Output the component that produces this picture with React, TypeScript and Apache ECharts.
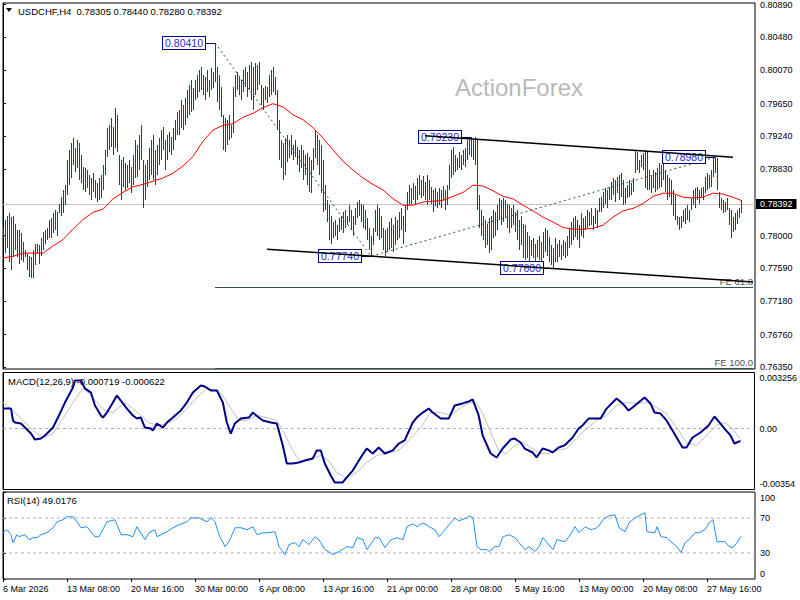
import React, { useEffect, useRef } from "react";
import * as echarts from "echarts";

// ---------- header / titles ----------
const SYMBOL_TITLE = "USDCHF,H4";
const LAST_OHLC = [0.78305, 0.7844, 0.7828, 0.78392];
const MACD_TITLE = "MACD(12,26,9)";
const MACD_LAST = [-0.000719, -0.000622];
const RSI_TITLE = "RSI(14)";
const RSI_LAST = 49.0176;
const WATERMARK = "ActionForex";

// ---------- axes ----------
const TIME_LABELS = [
  "6 Mar 2026", "13 Mar 08:00", "20 Mar 16:00", "30 Mar 00:00", "6 Apr 08:00", "13 Apr 16:00",
  "21 Apr 00:00", "28 Apr 08:00", "5 May 16:00", "13 May 00:00", "20 May 08:00", "27 May 16:00",
];
const TIME_LABEL_STEP = 32; // bars between time labels
const PRICE_TICKS = [0.7635, 0.7676, 0.7718, 0.7759, 0.78, 0.7883, 0.7924, 0.7965, 0.8007, 0.8048, 0.8089];
const PRICE_MIN = 0.7633;
const PRICE_MAX = 0.8091;
const MACD_TICKS = [-0.00354, 0, 0.003256];
const MACD_TICK_LABELS = ["-0.00354", "0.00", "0.003256"];
const RSI_TICKS = [0, 30, 70, 100];
const RSI_LEVELS = [30, 70];

// ---------- price bars (H4 high / low) ----------
const HIGHS = [
  0.7810, 0.7819, 0.7825, 0.7828, 0.7823, 0.7825, 0.7815, 0.7807, 0.7807, 0.7803,
  0.7792, 0.7782, 0.7778, 0.7775, 0.7773, 0.7782, 0.7790, 0.7790, 0.7788, 0.7797,
  0.7804, 0.7807, 0.7809, 0.7819, 0.7822, 0.7828, 0.7832, 0.7829, 0.7840,
  0.7848, 0.7857, 0.7863, 0.7894, 0.7907, 0.7916, 0.7922, 0.7910, 0.7920, 0.7916, 0.7901, 0.7886, 0.7884, 0.7882, 0.7876, 0.7872, 0.7878,
  0.7869, 0.7866, 0.7872, 0.7876, 0.7888, 0.7907, 0.7935, 0.7938, 0.7947, 0.7936, 0.7960, 0.7951, 0.7901, 0.7894, 0.7898,
  0.7891, 0.7888, 0.7894, 0.7886, 0.7901, 0.7920, 0.7913, 0.7926, 0.7938, 0.7894, 0.7888, 0.7894, 0.7910, 0.7920, 0.7926, 0.7907, 0.7913,
  0.7922, 0.7932, 0.7936, 0.7920, 0.7926, 0.7930, 0.7923, 0.7935, 0.7945, 0.7955,
  0.7957, 0.7970, 0.7963, 0.7972, 0.7982, 0.7988, 0.7995, 0.7985, 0.7995, 0.8001,
  0.8007, 0.8011, 0.8001, 0.7998, 0.8007, 0.7995, 0.8010, 0.8005, 0.8041,
  0.8011, 0.8001, 0.7986, 0.7951, 0.7947, 0.7945, 0.7951, 0.7938, 0.7986, 0.8001, 0.8005, 0.7998, 0.7995, 0.8007, 0.8011, 0.8005, 0.8014, 0.8017, 0.8011, 0.8016, 0.8014, 0.8017,
  0.7988, 0.7985, 0.7987, 0.7986, 0.8001, 0.8007, 0.8011, 0.7998, 0.7982, 0.7945,
  0.7920, 0.7916, 0.7922, 0.7926, 0.7920, 0.7926, 0.7913, 0.7920, 0.7911, 0.7907,
  0.7913, 0.7907, 0.7901, 0.7903, 0.7898, 0.7894, 0.7910, 0.7932, 0.7926, 0.7920,
  0.7913, 0.7894,
  0.7863, 0.7844, 0.7838, 0.7825, 0.7817, 0.7819, 0.7813, 0.7822, 0.7825, 0.7829,
  0.7832, 0.7825, 0.7838, 0.7832, 0.7825, 0.7834, 0.7842, 0.7844, 0.7840, 0.7838,
  0.7832, 0.7822, 0.7809, 0.7800, 0.7809, 0.7832, 0.7838, 0.7834, 0.7825, 0.7810,
  0.7807, 0.7809,
  0.7817, 0.7822, 0.7813, 0.7823, 0.7819, 0.7829, 0.7835, 0.7825, 0.7838, 0.7854,
  0.7863, 0.7859, 0.7866, 0.7862, 0.7872, 0.7876, 0.7869, 0.7874, 0.7867, 0.7876,
  0.7869, 0.7861, 0.7857, 0.7859, 0.7854, 0.7859, 0.7857, 0.7862, 0.7857, 0.7863,
  0.7888, 0.7907, 0.7911, 0.7901, 0.7897, 0.7904, 0.7901, 0.7907, 0.7910, 0.7920,
  0.7922, 0.7923, 0.7920, 0.7923,
  0.7920, 0.7851, 0.7832, 0.7825, 0.7819, 0.7815, 0.7822, 0.7825, 0.7832, 0.7829,
  0.7838, 0.7847, 0.7844, 0.7847, 0.7844, 0.7840, 0.7838, 0.7834, 0.7838, 0.7829,
  0.7832, 0.7819, 0.7825, 0.7815,
  0.7813, 0.7804, 0.7800, 0.7794, 0.7797, 0.7790, 0.7794, 0.7799, 0.7792, 0.7804,
  0.7809, 0.7807, 0.7798, 0.7788, 0.7785, 0.7797, 0.7790, 0.7794, 0.7788, 0.7794,
  0.7792, 0.7800, 0.7809, 0.7817, 0.7822,
  0.7825, 0.7819, 0.7813, 0.7828, 0.7822, 0.7825, 0.7832, 0.7829, 0.7834, 0.7825, 0.7835, 0.7832,
  0.7847, 0.7848, 0.7854, 0.7859, 0.7857, 0.7861, 0.7867, 0.7872, 0.7869, 0.7873,
  0.7876, 0.7878, 0.7869, 0.7859, 0.7863, 0.7869, 0.7866, 0.7872, 0.7907, 0.7904,
  0.7894, 0.7901, 0.7903, 0.7907, 0.7904, 0.7882, 0.7876, 0.7882, 0.7879, 0.7884,
  0.7891, 0.7888, 0.7904, 0.7882, 0.7876, 0.7872, 0.7869, 0.7857, 0.7851, 0.7825,
  0.7823, 0.7825, 0.7832, 0.7835, 0.7838, 0.7832, 0.7847, 0.7857, 0.7859, 0.7861,
  0.7857, 0.7859, 0.7861, 0.7873, 0.7878, 0.7876, 0.7882, 0.7898, 0.7898, 0.7897,
  0.7854, 0.7847, 0.7844, 0.7842, 0.7847, 0.7835, 0.7832, 0.7823, 0.7828, 0.7832,
  0.7835, 0.7844,
];
const LOWS = [
  0.7800, 0.7778, 0.7785, 0.7767, 0.7757, 0.7773, 0.7782, 0.7773, 0.7765, 0.7769,
  0.7767, 0.7773, 0.7757, 0.7748, 0.7747, 0.7747, 0.7763, 0.7778, 0.7765, 0.7775,
  0.7782, 0.7790, 0.7794, 0.7797, 0.7797, 0.7803, 0.7807, 0.7800, 0.7828,
  0.7825, 0.7828, 0.7838, 0.7851, 0.7863, 0.7872, 0.7888, 0.7879, 0.7884, 0.7869, 0.7866, 0.7857, 0.7854, 0.7859, 0.7851, 0.7844, 0.7854,
  0.7847, 0.7842, 0.7844, 0.7847, 0.7857, 0.7876, 0.7898, 0.7907, 0.7911, 0.7901, 0.7910, 0.7904, 0.7863, 0.7844, 0.7861,
  0.7857, 0.7859, 0.7866, 0.7853, 0.7863, 0.7872, 0.7873, 0.7882, 0.7894, 0.7835, 0.7844, 0.7861, 0.7869, 0.7876, 0.7869, 0.7863, 0.7876,
  0.7888, 0.7894, 0.7907, 0.7882, 0.7894, 0.7904, 0.7901, 0.7907, 0.7920, 0.7926,
  0.7926, 0.7935, 0.7932, 0.7938, 0.7947, 0.7951, 0.7955, 0.7957, 0.7970, 0.7972,
  0.7980, 0.7982, 0.7976, 0.7970, 0.7980, 0.7973, 0.7982, 0.7985, 0.7992,
  0.7967, 0.7957, 0.7948, 0.7907, 0.7904, 0.7913, 0.7920, 0.7922, 0.7928, 0.7973, 0.7982, 0.7976, 0.7970, 0.7980, 0.7986, 0.7973, 0.7982, 0.7970, 0.7957, 0.7976, 0.7982, 0.7988,
  0.7963, 0.7957, 0.7970, 0.7966, 0.7973, 0.7976, 0.7980, 0.7976, 0.7932, 0.7894,
  0.7884, 0.7869, 0.7876, 0.7892, 0.7897, 0.7901, 0.7894, 0.7898, 0.7888, 0.7879,
  0.7884, 0.7869, 0.7876, 0.7863, 0.7854, 0.7853, 0.7882, 0.7897, 0.7888, 0.7876,
  0.7853, 0.7829,
  0.7832, 0.7817, 0.7794, 0.7790, 0.7797, 0.7800, 0.7794, 0.7804, 0.7807, 0.7803,
  0.7809, 0.7813, 0.7817, 0.7807, 0.7800, 0.7813, 0.7822, 0.7825, 0.7817, 0.7810,
  0.7807, 0.7794, 0.7782, 0.7774, 0.7788, 0.7804, 0.7800, 0.7794, 0.7797, 0.7782,
  0.7775, 0.7779,
  0.7782, 0.7784, 0.7779, 0.7788, 0.7794, 0.7797, 0.7807, 0.7790, 0.7804, 0.7832,
  0.7838, 0.7840, 0.7844, 0.7838, 0.7844, 0.7851, 0.7847, 0.7849, 0.7844, 0.7838,
  0.7844, 0.7840, 0.7829, 0.7837, 0.7834, 0.7838, 0.7835, 0.7844, 0.7832, 0.7838,
  0.7857, 0.7872, 0.7876, 0.7879, 0.7882, 0.7884, 0.7882, 0.7888, 0.7886, 0.7894,
  0.7901, 0.7898, 0.7894, 0.7888,
  0.7832, 0.7809, 0.7800, 0.7794, 0.7784, 0.7788, 0.7778, 0.7782, 0.7797, 0.7800,
  0.7807, 0.7819, 0.7813, 0.7817, 0.7822, 0.7809, 0.7803, 0.7809, 0.7813, 0.7804,
  0.7794, 0.7782, 0.7788, 0.7772,
  0.7769, 0.7772, 0.7767, 0.7775, 0.7772, 0.7767, 0.7773, 0.7769, 0.7763, 0.7772,
  0.7779, 0.7775, 0.7767, 0.7763, 0.7760, 0.7767, 0.7767, 0.7773, 0.7769, 0.7775,
  0.7772, 0.7775, 0.7784, 0.7788, 0.7794,
  0.7798, 0.7794, 0.7785, 0.7800, 0.7797, 0.7807, 0.7809, 0.7812, 0.7813, 0.7807, 0.7815, 0.7809,
  0.7829, 0.7829, 0.7835, 0.7840, 0.7835, 0.7844, 0.7844, 0.7851, 0.7842, 0.7853,
  0.7844, 0.7848, 0.7838, 0.7840, 0.7847, 0.7848, 0.7851, 0.7854, 0.7878, 0.7882,
  0.7878, 0.7886, 0.7882, 0.7859, 0.7857, 0.7857, 0.7853, 0.7859, 0.7854, 0.7857,
  0.7859, 0.7861, 0.7869, 0.7854, 0.7844, 0.7848, 0.7838, 0.7825, 0.7819, 0.7813,
  0.7807, 0.7809, 0.7817, 0.7815, 0.7819, 0.7817, 0.7832, 0.7838, 0.7835, 0.7844,
  0.7840, 0.7847, 0.7844, 0.7853, 0.7857, 0.7859, 0.7861, 0.7873, 0.7878, 0.7857,
  0.7834, 0.7832, 0.7828, 0.7829, 0.7832, 0.7813, 0.7797, 0.7804, 0.7807, 0.7815,
  0.7822, 0.7828,
];

// ---------- moving average (red), read every 5 bars ----------
const MA_STEP = 5;
const MA_VALUES = [
  0.7772, 0.7774, 0.7778, 0.7778, 0.7778, 0.7787, 0.7795, 0.7808, 0.7820, 0.7829,
  0.7833, 0.7846, 0.7854, 0.7861, 0.7864, 0.7868, 0.7872, 0.7878, 0.7887, 0.7899,
  0.7918, 0.7932, 0.7938, 0.7940, 0.7948, 0.7953, 0.7960, 0.7965, 0.7961, 0.7951,
  0.7945, 0.7935, 0.7922, 0.7907, 0.7893, 0.7882, 0.7872, 0.7864, 0.7857, 0.7846,
  0.7838, 0.7838, 0.7842, 0.7843, 0.7844, 0.7849, 0.7854, 0.7863, 0.7862, 0.7856,
  0.7849, 0.7846, 0.7838, 0.7831, 0.7823, 0.7817, 0.7810, 0.7808, 0.7808, 0.7809,
  0.7813, 0.7823, 0.7831, 0.7834, 0.7840, 0.7849, 0.7853, 0.7853, 0.7848, 0.7847,
  0.7848, 0.7853, 0.7852, 0.7848,
];
const MA_LAST = [369, 0.7844];

// ---------- MACD (bar index, value) ----------
const MACD_MAIN = [
  [0, 0.00116], [4, 0.00116], [5, 0.00047], [6, 0.00035], [9, 0.00029], [11, 0.00006], [14, -0.00029], [16, -0.00064],
  [19, -0.00058], [21, -0.0004], [25, 0.00006], [28, 0.00076], [31, 0.00151], [35, 0.00238], [36, 0.00279], [39, 0.00279],
  [41, 0.00233], [44, 0.00209], [46, 0.00134], [49, 0.00076], [50, 0.00064], [52, 0.00093], [55, 0.00151], [57, 0.00192],
  [60, 0.00146], [62, 0.00116], [65, 0.00076], [67, 0.00058], [69, 0.00064], [71, 0.00006], [74, 0], [75, -0.00011],
  [77, 0.00029], [80, 0.00006], [82, 0.00035], [85, 0.00064], [89, 0.00105], [92, 0.00151], [95, 0.00209], [99, 0.0025],
  [101, 0.00244], [104, 0.00221], [107, 0.00221], [110, 0.00151], [112, 0.00035], [114, -0.00029], [116, 0.00029], [119, 0.00058],
  [123, 0.00064], [125, 0.00093], [128, 0.00064], [130, 0.00047], [134, 0.00035], [137, 0.00029], [140, -0.00098], [142, -0.00203],
  [145, -0.00203], [148, -0.00197], [151, -0.00186], [155, -0.00174], [157, -0.00127], [159, -0.00127], [161, -0.00203], [164, -0.00273],
  [166, -0.00313], [170, -0.00313], [172, -0.00284], [175, -0.00244], [179, -0.00168], [182, -0.00116], [185, -0.00145], [188, -0.0011],
  [191, -0.00145], [195, -0.00127], [198, -0.00087], [201, -0.00069], [205, 0.00035], [207, 0.00064], [210, 0.00093], [213, 0.00116],
  [215, 0.00093], [219, 0.00058], [223, 0.00058], [226, 0.00134], [230, 0.00146], [233, 0.00157], [235, 0.00169], [238, 0.00076],
  [240, -0.0004], [244, -0.00145], [247, -0.00168], [250, -0.00116], [254, -0.00064], [256, -0.00058], [259, -0.00081], [261, -0.00116],
  [265, -0.00139], [267, -0.00168], [270, -0.00116], [273, -0.00127], [275, -0.00139], [278, -0.0011], [281, -0.00098], [285, -0.00052],
  [288, 0], [290, 0.00018], [293, 0.00058], [299, 0.00058], [302, 0.00116], [307, 0.00175], [310, 0.00146], [313, 0.00105],
  [315, 0.00122], [321, 0.0018], [324, 0.00146], [326, 0.00093], [329, 0.00087], [332, 0.00047], [335, -0.00011], [340, -0.0011],
  [342, -0.0011], [345, -0.00052], [349, -0.00023], [353, 0.00018], [356, 0.0007], [359, 0.00029], [361, 0], [364, -0.0004],
  [366, -0.00087], [369, -0.000719],
];
const MACD_SIGNAL = [
  [0, 0.00151], [5, 0.00105], [10, 0.00047], [15, -0.00011], [20, -0.00052], [25, -0.00029], [30, 0.00058], [35, 0.00151],
  [40, 0.00233], [43, 0.00204], [47, 0.00151], [51, 0.00105], [55, 0.00093], [58, 0.00122], [61, 0.00151], [65, 0.00116],
  [69, 0.00076], [73, 0.00035], [77, 0.00018], [82, 0.00029], [87, 0.00058], [92, 0.00116], [97, 0.0018], [102, 0.00233],
  [107, 0.00221], [110, 0.00192], [114, 0.00116], [118, 0.00047], [122, 0.00047], [127, 0.00076], [132, 0.00064], [137, 0.00047],
  [140, -0.00011], [145, -0.00127], [149, -0.00197], [154, -0.00174], [159, -0.00157], [163, -0.00186], [167, -0.00255], [172, -0.0029],
  [177, -0.00255], [182, -0.00197], [187, -0.00157], [192, -0.00145], [198, -0.00127], [204, -0.00058], [209, 0.00006], [214, 0.00093],
  [219, 0.00093], [224, 0.00076], [229, 0.00122], [234, 0.00151], [237, 0.00146], [240, 0.00087], [244, -0.00023], [248, -0.00127],
  [252, -0.00145], [256, -0.00098], [260, -0.00081], [265, -0.00116], [269, -0.00145], [273, -0.00145], [277, -0.00127], [282, -0.00116],
  [287, -0.00058], [292, 0], [297, 0.00047], [302, 0.00076], [307, 0.00134], [312, 0.00151], [317, 0.00146], [322, 0.00151],
  [327, 0.00122], [332, 0.00087], [337, 0.00006], [342, -0.00081], [347, -0.00098], [352, -0.0004], [357, 0.00018], [361, 0.00035],
  [365, 0], [369, -0.000622],
];

// ---------- RSI (bar index, value) ----------
const RSI_LINE = [
  [0, 53.2], [2, 56.6], [4, 50.9], [5, 41.8], [7, 50.9], [8, 48.6], [11, 50.9], [13, 45.2], [15, 47.5], [17, 47.5],
  [19, 50.9], [22, 53.2], [25, 58.9], [27, 65.8], [30, 68.1], [32, 71.5], [35, 71.5], [37, 65.8], [39, 58.9], [42, 60.1],
  [46, 48.6], [48, 48.6], [52, 65.8], [56, 68.1], [59, 50.9], [62, 50.9], [65, 48.6], [67, 60.1], [71, 45.2], [73, 53.2],
  [76, 56.6], [77, 48.6], [82, 54.3], [85, 58.9], [88, 62.3], [92, 65.8], [94, 70.3], [98, 70.3], [102, 65.8], [104, 70.3],
  [106, 65.8], [108, 50.9], [111, 37.2], [113, 42.9], [116, 58.9], [119, 58.9], [122, 56.6], [125, 60.1], [127, 50.9], [130, 53.2],
  [133, 53.2], [136, 54.3], [138, 37.2], [141, 28.1], [143, 39.5], [146, 41.8], [148, 37.2], [150, 45.2], [153, 39.5], [156, 48.6],
  [158, 45.2], [161, 33.8], [165, 28.1], [168, 31.5], [172, 37.2], [175, 36.1], [177, 47.5], [180, 45.2], [182, 33.8], [186, 47.5],
  [188, 47.5], [191, 36.1], [194, 45.2], [197, 47.5], [200, 45.2], [202, 60.1], [205, 63.5], [207, 60.1], [210, 64.6], [213, 60.1],
  [216, 56.6], [218, 48.6], [221, 56.6], [223, 62.3], [226, 70.3], [228, 66.9], [232, 70.3], [233, 72.6], [235, 70.3], [237, 37.2],
  [239, 33.8], [242, 33.8], [243, 31.5], [246, 37.2], [248, 37.2], [250, 48.6], [253, 50.9], [256, 47.5], [258, 41.8], [261, 33.8],
  [263, 37.2], [266, 31.5], [268, 37.2], [270, 47.5], [272, 41.8], [275, 33.8], [277, 45.2], [281, 42.9], [283, 48.6], [286, 60.1],
  [288, 53.2], [291, 60.1], [294, 56.6], [297, 58.9], [301, 70.3], [303, 72.6], [306, 73.8], [308, 58.9], [311, 54.3], [313, 64.6],
  [316, 70.3], [318, 72.6], [321, 76.1], [322, 54.3], [326, 53.2], [327, 60.1], [329, 48.6], [332, 47.5], [334, 42.9], [337, 37.2],
  [339, 30.3], [341, 41.8], [343, 45.2], [346, 53.2], [348, 53.2], [351, 56.6], [353, 64.6], [355, 68.1], [357, 42.9], [361, 42.9],
  [363, 37.2], [365, 36.1], [367, 41.8], [369, 49.0176],
];

// ---------- annotations ----------
const PIVOT_IDX = [106, 234, 184, 275, 356];
const PIVOT_VAL = [0.8041, 0.7923, 0.7774, 0.776, 0.7898];
const UPPER_TREND = [[211, 0.7925], [365, 0.7898]];
const LOWER_TREND = [[132, 0.7783], [375, 0.7742]];
const FE_PATH = [[106, 0.8041], [184, 0.7774], [356, 0.7898]];
const FE_START = 106;
const FE_END = 375;
const FE_LEVELS = [0.7735, 0.7634];
const FE_NAMES = ["FE 61.8", "FE 100.0"];

const XMAX = 376;
const FONT = '"Liberation Sans", Arial, sans-serif';
const BAR_COLOR = "#1c4466";

function buildOption() {
  const gridL = 3;
  const gridR = 45;
  const barData = HIGHS.map((h, i) => [i, h, LOWS[i]]);
  const maData = MA_VALUES.map((v, k) => [k * MA_STEP, v]).concat([MA_LAST]);
  const timeTicks = TIME_LABELS.map((_, k) => k * TIME_LABEL_STEP);

  const near = (a: number, b: number) => Math.abs(a - b) < 1e-9;

  const hideX = (gi: number) => ({
    type: "value", gridIndex: gi, min: 0, max: XMAX, show: false, splitLine: { show: false },
  });

  const edgeRich = {
    t: { padding: [11, 0, 0, 0], fontSize: 9, color: "#000", fontFamily: FONT },
    b: { padding: [0, 0, 11, 0], fontSize: 9, color: "#000", fontFamily: FONT },
  };

  return {
    animation: false,
    backgroundColor: "#fff",
    grid: [
      { left: gridL, right: gridR, top: 3, height: 366, show: true, borderColor: "#000", borderWidth: 1, backgroundColor: "transparent" },
      { left: gridL, right: gridR, top: 372.5, height: 117, show: true, borderColor: "#000", borderWidth: 1, backgroundColor: "transparent" },
      { left: gridL, right: gridR, top: 492, height: 87, show: true, borderColor: "#000", borderWidth: 1, backgroundColor: "transparent" },
    ],
    xAxis: [
      hideX(0),
      hideX(1),
      {
        type: "value", gridIndex: 2, min: 0, max: XMAX,
        splitLine: { show: false },
        axisLine: { show: false },
        axisTick: { show: true, length: 3, customValues: timeTicks, lineStyle: { color: "#000" } },
        axisLabel: {
          customValues: timeTicks,
          formatter: (v: number) => TIME_LABELS[Math.round(v / TIME_LABEL_STEP)] || "",
          align: "left", margin: 5, fontSize: 9, color: "#000", fontFamily: FONT,
          showMinLabel: true, showMaxLabel: true,
        },
      },
    ],
    yAxis: [
      {
        type: "value", gridIndex: 0, position: "right", min: PRICE_MIN, max: PRICE_MAX, scale: true,
        splitLine: { show: false },
        axisLine: { show: true, lineStyle: { color: "#000" } },
        axisTick: { show: true, length: 3, customValues: PRICE_TICKS, lineStyle: { color: "#000" } },
        axisLabel: {
          customValues: PRICE_TICKS, formatter: (v: number) => v.toFixed(5),
          margin: 5, fontSize: 9, color: "#000", fontFamily: FONT,
        },
      },
      {
        type: "value", gridIndex: 1, position: "right", min: MACD_TICKS[0], max: MACD_TICKS[2],
        splitLine: { show: false },
        axisLine: { show: true, lineStyle: { color: "#000" } },
        axisTick: { show: true, length: 3, customValues: MACD_TICKS, lineStyle: { color: "#000" } },
        axisLabel: {
          customValues: MACD_TICKS,
          formatter: (v: number) => {
            const k = MACD_TICKS.findIndex((t) => near(t, v));
            const txt = k >= 0 ? MACD_TICK_LABELS[k] : "";
            if (k === MACD_TICKS.length - 1) return "{t|" + txt + "}";
            if (k === 0) return "{b|" + txt + "}";
            return txt;
          },
          rich: edgeRich, margin: 5, fontSize: 9, color: "#000", fontFamily: FONT,
        },
      },
      {
        type: "value", gridIndex: 2, position: "right", min: 0, max: 100,
        splitLine: { show: false },
        axisLine: { show: true, lineStyle: { color: "#000" } },
        axisTick: { show: true, length: 3, customValues: RSI_TICKS, lineStyle: { color: "#000" } },
        axisLabel: {
          customValues: RSI_TICKS,
          formatter: (v: number) => {
            if (near(v, 100)) return "{t|100}";
            if (near(v, 0)) return "{b|0}";
            return String(Math.round(v));
          },
          rich: edgeRich, margin: 5, fontSize: 9, color: "#000", fontFamily: FONT,
        },
      },
    ],
    graphic: [
      { type: "polygon", shape: { points: [[6, 8], [12, 8], [9, 12]] }, style: { fill: "#000" }, z: 50 },
      {
        type: "text", x: 18, y: 11, z: 50,
        style: {
          text: SYMBOL_TITLE + "\u00a0\u00a0" + LAST_OHLC.map((v) => v.toFixed(5)).join(" "),
          fontSize: 9.5, fontFamily: FONT, fill: "#000", verticalAlign: "middle",
        },
      },
      {
        type: "text", x: 455, y: 87, z: 1,
        style: { text: WATERMARK, fontSize: 24, fontFamily: FONT, fill: "#b9b9b9", verticalAlign: "middle" },
      },
      {
        type: "text", x: 8, y: 381, z: 50,
        style: {
          text: MACD_TITLE + " " + MACD_LAST.map((v) => v.toFixed(6)).join(" "),
          fontSize: 9.5, fontFamily: FONT, fill: "#000", verticalAlign: "middle",
        },
      },
      {
        type: "text", x: 7, y: 500, z: 50,
        style: {
          text: RSI_TITLE + " " + RSI_LAST.toFixed(4),
          fontSize: 9.5, fontFamily: FONT, fill: "#000", verticalAlign: "middle",
        },
      },
    ],
    series: [
      // current price line + black tag
      {
        type: "custom", xAxisIndex: 0, yAxisIndex: 0, silent: true, z: 1,
        data: [[LAST_OHLC[3]]],
        encode: { y: 0 },
        renderItem: (params: any, api: any) => {
          const v = api.value(0);
          const a = api.coord([0, v]);
          const b = api.coord([XMAX, v]);
          const y = Math.round(a[1]) + 0.5;
          return {
            type: "group",
            children: [
              { type: "line", shape: { x1: a[0], y1: y, x2: b[0], y2: y }, style: { stroke: "#c0c0c0", lineWidth: 1 } },
              {
                type: "text", x: b[0] + 1, y: Math.round(a[1]),
                style: {
                  text: v.toFixed(5), fill: "#fff", fontSize: 9, fontFamily: FONT, verticalAlign: "middle",
                  backgroundColor: "#000", padding: [1, 4, 0, 4],
                },
              },
            ],
          };
        },
      },
      // OHLC bars drawn as high-low strokes
      {
        type: "custom", xAxisIndex: 0, yAxisIndex: 0, silent: true, clip: true, z: 2,
        data: barData,
        encode: { x: 0, y: [1, 2] },
        renderItem: (params: any, api: any) => {
          const top = api.coord([api.value(0), api.value(1)]);
          const bot = api.coord([api.value(0), api.value(2)]);
          const x = Math.round(top[0]) + 0.5;
          const y1 = Math.round(top[1]);
          const y2 = Math.max(Math.round(bot[1]), y1 + 1);
          return { type: "line", shape: { x1: x, y1, x2: x, y2 }, style: { stroke: BAR_COLOR, lineWidth: 1 } };
        },
      },
      // moving average
      {
        type: "line", xAxisIndex: 0, yAxisIndex: 0, data: maData, symbol: "none", silent: true, z: 3,
        lineStyle: { color: "#ff0000", width: 1 },
      },
      // Fibonacci expansion path
      {
        type: "line", xAxisIndex: 0, yAxisIndex: 0, data: FE_PATH, symbol: "none", silent: true, z: 4,
        lineStyle: { color: "#2f4f4f", width: 1, type: [2, 3] },
      },
      // FE levels
      {
        type: "custom", xAxisIndex: 0, yAxisIndex: 0, silent: true, z: 4,
        data: FE_LEVELS.map((lv, k) => [FE_START, FE_END, lv, k]),
        encode: { x: [0, 1], y: 2 },
        renderItem: (params: any, api: any) => {
          const a = api.coord([api.value(0), api.value(2)]);
          const b = api.coord([api.value(1), api.value(2)]);
          const y = Math.round(a[1]) + 0.5;
          return {
            type: "group",
            children: [
              { type: "line", shape: { x1: a[0], y1: y, x2: b[0], y2: y }, style: { stroke: "#2f4f4f", lineWidth: 1 } },
              {
                type: "text", x: b[0], y: y - 1,
                style: {
                  text: FE_NAMES[api.value(3)], fill: "#505050", fontSize: 9.5, fontFamily: FONT,
                  align: "right", verticalAlign: "bottom",
                },
              },
            ],
          };
        },
      },
      // pivot labels
      {
        type: "custom", xAxisIndex: 0, yAxisIndex: 0, silent: true, z: 6,
        data: PIVOT_IDX.map((ix, k) => [ix, PIVOT_VAL[k]]),
        encode: { x: 0, y: 1 },
        renderItem: (params: any, api: any) => {
          const p = api.coord([api.value(0), api.value(1)]);
          const y = Math.round(p[1]);
          const xr = Math.round(p[0]) - 10;
          return {
            type: "group",
            children: [
              { type: "line", shape: { x1: xr, y1: y + 0.5, x2: p[0], y2: y + 0.5 }, style: { stroke: "#000080", lineWidth: 1 } },
              {
                type: "text", x: xr, y,
                style: {
                  text: api.value(1).toFixed(5), fill: "#2a2ad0", fontSize: 10.5, fontFamily: FONT,
                  align: "right", verticalAlign: "middle",
                  backgroundColor: "#fff", borderColor: "#000080", borderWidth: 1, padding: [1, 2, 0, 2],
                },
              },
            ],
          };
        },
      },
      // trend lines
      {
        type: "line", xAxisIndex: 0, yAxisIndex: 0, data: UPPER_TREND, symbol: "none", silent: true, z: 8,
        lineStyle: { color: "#000", width: 1.5 },
      },
      {
        type: "line", xAxisIndex: 0, yAxisIndex: 0, data: LOWER_TREND, symbol: "none", silent: true, z: 8,
        lineStyle: { color: "#000", width: 1.5 },
      },
      // MACD zero line
      {
        type: "line", xAxisIndex: 1, yAxisIndex: 1, data: [[0, 0], [XMAX, 0]], symbol: "none", silent: true, z: 1,
        lineStyle: { color: "#b0b0b0", width: 1, type: [3, 3] },
      },
      {
        type: "line", xAxisIndex: 1, yAxisIndex: 1, data: MACD_SIGNAL, symbol: "none", silent: true, z: 2,
        lineStyle: { color: "#c0c0c0", width: 1 },
      },
      {
        type: "line", xAxisIndex: 1, yAxisIndex: 1, data: MACD_MAIN, symbol: "none", silent: true, z: 3,
        lineStyle: { color: "#00008b", width: 2 },
      },
      // RSI levels and line
      ...RSI_LEVELS.map((lv) => ({
        type: "line", xAxisIndex: 2, yAxisIndex: 2, data: [[0, lv], [XMAX, lv]], symbol: "none", silent: true, z: 1,
        lineStyle: { color: "#b0b0b0", width: 1, type: [3, 3] },
      })),
      {
        type: "line", xAxisIndex: 2, yAxisIndex: 2, data: RSI_LINE, symbol: "none", silent: true, z: 3,
        lineStyle: { color: "#1e90ff", width: 1 },
      },
    ],
  };
}

export default function App() {
  const ref = useRef<HTMLDivElement>(null);
  useEffect(() => {
    if (!ref.current) return;
    const chart = echarts.init(ref.current, null, { renderer: "svg" });
    chart.setOption(buildOption() as any);
    return () => chart.dispose();
  }, []);
  return (
    <div
      ref={ref}
      style={{ position: "absolute", left: 0, top: 0, width: 800, height: 600, background: "#fff" }}
    />
  );
}
